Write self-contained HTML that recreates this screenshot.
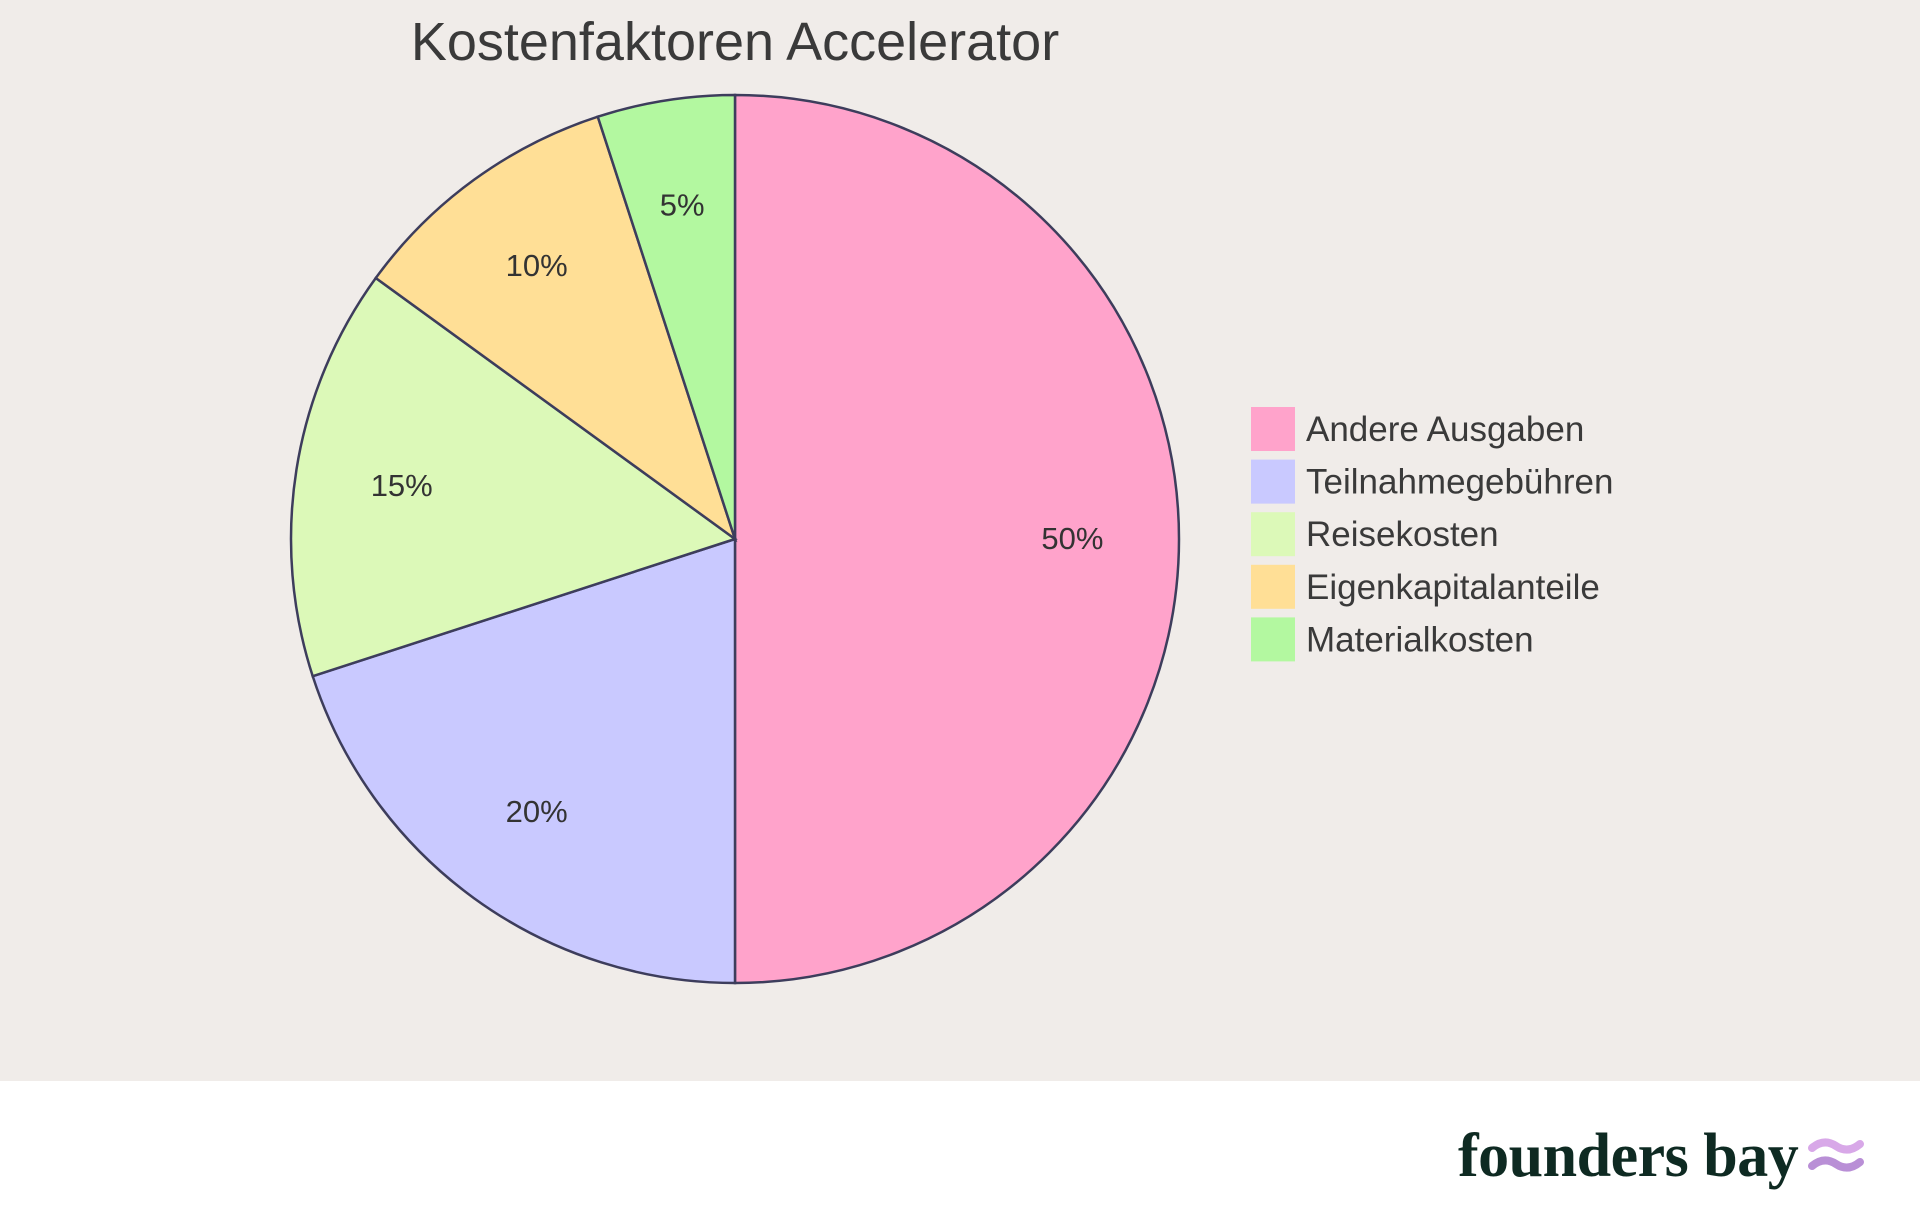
<!DOCTYPE html>
<html><head><meta charset="utf-8"><style>
html,body{margin:0;padding:0;width:1920px;height:1215px;overflow:hidden;background:#fff;font-family:"Liberation Sans",sans-serif}
#plot{position:absolute;left:0;top:0;width:1920px;height:1081px;background:#f0ece9}
</style></head><body>
<div id="plot">
<svg id="svg" width="1920" height="1081" xmlns="http://www.w3.org/2000/svg">
<text x="735" y="60" text-anchor="middle" font-size="54" fill="#3a3a3a" font-family="Liberation Sans, sans-serif">Kostenfaktoren Accelerator</text>
<g id="pie"></g>
<g id="legend"></g>
</svg></div>
<div style="position:absolute;left:0;top:1081px;width:1920px;height:134px;background:#fff">
<div style="position:absolute;left:1458px;top:40px;font-family:'Liberation Serif',serif;font-weight:bold;font-size:62px;color:#0e2a22;letter-spacing:-0.5px">founders bay</div>
<svg style="position:absolute;left:1808px;top:53px" width="56" height="46"><path d="M4 14 Q16 4 28 12 T52 10" stroke="#d8a8e8" stroke-width="8" fill="none" stroke-linecap="round"/><path d="M4 32 Q16 22 28 30 T52 28" stroke="#b98fd6" stroke-width="8" fill="none" stroke-linecap="round"/></svg>
</div>
<script>
const categories=["Andere Ausgaben","Teilnahmegebühren","Reisekosten","Eigenkapitalanteile","Materialkosten"];
const values=[50,20,15,10,5];
const colors=["#ffa3cb","#c9c9ff","#dcf9b8","#ffdf96","#b3f8a0"];
const NS="http://www.w3.org/2000/svg";
const cx=735,cy=539,R=444;
const total=values.reduce((a,b)=>a+b,0);
const pie=document.getElementById('pie');
let a0=0;
function pt(a,r){return [cx+r*Math.sin(a),cy-r*Math.cos(a)];}
values.forEach((v,i)=>{
  const a1=a0+v/total*2*Math.PI;
  const [x0,y0]=pt(a0,R),[x1,y1]=pt(a1,R);
  const p=document.createElementNS(NS,'path');
  p.setAttribute('d',`M${cx},${cy}L${x0},${y0}A${R},${R} 0 ${a1-a0>Math.PI?1:0} 1 ${x1},${y1}Z`);
  p.setAttribute('fill',colors[i]);p.setAttribute('stroke','#3d3d5c');p.setAttribute('stroke-width','2.5');
  
  
  pie.appendChild(p);
  const am=(a0+a1)/2;const [lx,ly]=pt(am,R*0.76);
  const t=document.createElementNS(NS,'text');
  t.setAttribute('x',lx);t.setAttribute('y',ly+10);t.setAttribute('text-anchor','middle');
  t.setAttribute('font-size','31');t.setAttribute('fill','#333');
  t.textContent=Math.round(v/total*100)+'%';
  
  
  pie.appendChild(t);
  a0=a1;
});
const lg=document.getElementById('legend');
categories.forEach((c,i)=>{
  const y=407+i*52.6;
  const r=document.createElementNS(NS,'rect');
  r.setAttribute('x',1251);r.setAttribute('y',y);r.setAttribute('width',44);r.setAttribute('height',44);r.setAttribute('fill',colors[i]);
  
  
  lg.appendChild(r);
  const t=document.createElementNS(NS,'text');
  t.setAttribute('x',1306);t.setAttribute('y',y+34);t.setAttribute('font-size','35');t.setAttribute('fill','#3a3a3a');
  t.textContent=c;
  
  
  lg.appendChild(t);
});
</script>
</body></html>
